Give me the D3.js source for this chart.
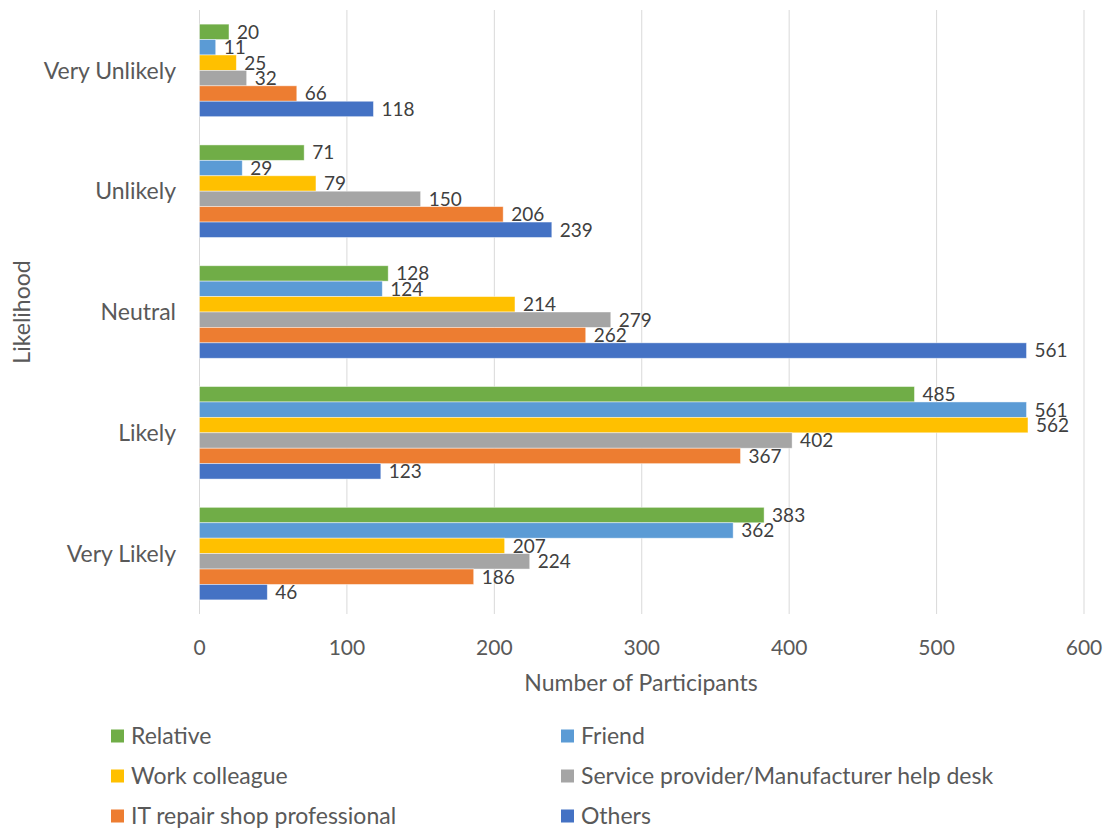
<!DOCTYPE html>
<html>
<head>
<meta charset="utf-8">
<script src="https://cdn.jsdelivr.net/npm/d3@7"></script>
<style>
  html, body { margin: 0; padding: 0; background: #fff; }
  svg { display: block; font-family: Lato, "Open Sans", sans-serif; }
</style>
</head>
<body>
<svg id="chart" width="1109" height="829"></svg>
<script>
// Likelihood categories, top to bottom
const categories = ["Very Unlikely", "Unlikely", "Neutral", "Likely", "Very Likely"];

// Sources of help, in drawing order within each group
const seriesNames = ["Relative", "Friend", "Work colleague",
  "Service provider/Manufacturer help desk", "IT repair shop professional", "Others"];
const seriesColors = ["#70AD47", "#5B9BD5", "#FFC000", "#A5A5A5", "#ED7D31", "#4472C4"];

// Number of participants per category, one array per source
const relative      = [20, 71, 128, 485, 383];
const friend        = [11, 29, 124, 561, 362];
const workColleague = [25, 79, 214, 562, 207];
const serviceDesk   = [32, 150, 279, 402, 224];
const itRepair      = [66, 206, 262, 367, 186];
const others        = [118, 239, 561, 123, 46];
const seriesValues = [relative, friend, workColleague, serviceDesk, itRepair, others];

const xTicks = [0, 100, 200, 300, 400, 500, 600];

const svg = d3.select("#chart");
const textColor = "#595959";

const plot = { left: 199.5, right: 1084, top: 10, bottom: 614 };

const x = d3.scaleLinear().domain([0, 600]).range([plot.left, plot.right]);
const y = d3.scaleBand().domain(categories).range([plot.top, plot.bottom])
  .paddingInner(0.234).paddingOuter(0.117);
const ySub = d3.scaleBand().domain(seriesNames).range([0, y.bandwidth()]).padding(0);

// Vertical gridlines
svg.append("g").selectAll("line").data(xTicks).join("line")
  .attr("x1", d => x(d)).attr("x2", d => x(d))
  .attr("y1", plot.top).attr("y2", plot.bottom)
  .attr("stroke", "#d9d9d9").attr("stroke-width", 1);

// Bars with value labels
const groups = svg.append("g").selectAll("g").data(categories).join("g")
  .attr("transform", d => `translate(0,${y(d)})`);

groups.each(function(cat, ci) {
  const g = d3.select(this);
  const rows = seriesNames.map((s, si) => ({ s, si, v: seriesValues[si][ci] }));
  g.selectAll("rect").data(rows).join("rect")
    .attr("x", x(0))
    .attr("y", d => ySub(d.s))
    .attr("width", d => x(d.v) - x(0))
    .attr("height", ySub.bandwidth())
    .attr("fill", d => seriesColors[d.si])
    .attr("stroke", "#ffffff").attr("stroke-opacity", 0.55).attr("stroke-width", 0.8);
  g.selectAll("text").data(rows).join("text")
    .attr("x", d => x(d.v) + 8)
    .attr("y", d => ySub(d.s) + ySub.bandwidth() / 2)
    .attr("dy", "0.36em")
    .attr("font-size", 19)
    .attr("fill", "#404040")
    .text(d => d.v);
});

// X axis tick labels
svg.append("g").selectAll("text").data(xTicks).join("text")
  .attr("x", d => x(d)).attr("y", 647).attr("dy", "0.36em")
  .attr("text-anchor", "middle").attr("font-size", 21).attr("fill", textColor)
  .text(d => d);

// Category labels
svg.append("g").selectAll("text").data(categories).join("text")
  .attr("x", 176).attr("y", d => y(d) + y.bandwidth() / 2).attr("dy", "0.36em")
  .attr("text-anchor", "end").attr("font-size", 23).attr("fill", textColor)
  .text(d => d);

// Axis titles
svg.append("text").attr("x", 641).attr("y", 683).attr("dy", "0.36em")
  .attr("text-anchor", "middle").attr("font-size", 23).attr("fill", textColor)
  .text("Number of Participants");
svg.append("text")
  .attr("transform", `translate(22,312) rotate(-90)`).attr("dy", "0.36em")
  .attr("text-anchor", "middle").attr("font-size", 23).attr("fill", textColor)
  .text("Likelihood");

// Legend: two columns, three rows
const legendCols = [111, 561];
const legendRows = [736, 776, 816];
const legend = svg.append("g").selectAll("g").data(seriesNames).join("g")
  .attr("transform", (d, i) => `translate(${legendCols[i % 2]},${legendRows[Math.floor(i / 2)]})`);
legend.append("rect").attr("x", 0).attr("y", -6.5).attr("width", 13).attr("height", 13)
  .attr("fill", (d, i) => seriesColors[i]);
legend.append("text").attr("x", 20).attr("y", 0).attr("dy", "0.36em")
  .attr("font-size", 23).attr("fill", textColor).text(d => d);
</script>
</body>
</html>
